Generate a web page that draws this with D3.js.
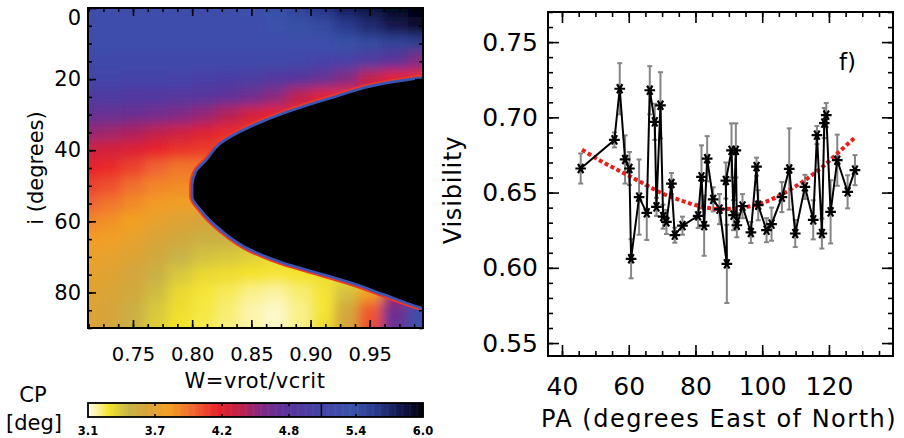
<!DOCTYPE html>
<html>
<head>
<meta charset="utf-8">
<script src="https://cdn.jsdelivr.net/npm/d3@7"></script>
<style>
  body { margin: 0; background: #fff; }
  svg { display: block; font-family: "DejaVu Sans", sans-serif; }
</style>
</head>
<body>
<svg id="chart" width="904" height="438"></svg>
<script>
// ---- left panel: CP (deg) over W = vrot/vcrit and inclination i ----
const cpW = [0.712, 0.73, 0.75, 0.77, 0.79, 0.81, 0.83, 0.85, 0.87, 0.89, 0.91, 0.93, 0.95, 0.97, 0.995];
const cpI = [0, 5, 10, 15, 20, 25, 30, 35, 40, 45, 50, 55, 60, 65, 70, 75, 80, 85, 90];
const cpValues = [
  [5.30, 5.30, 5.30, 5.30, 5.30, 5.30, 5.30, 5.33, 5.40, 5.50, 5.62, 5.75, 5.85, 5.95, 6.00],
  [5.30, 5.30, 5.30, 5.30, 5.30, 5.30, 5.30, 5.30, 5.34, 5.40, 5.45, 5.58, 5.68, 5.80, 5.90],
  [5.28, 5.28, 5.28, 5.28, 5.28, 5.28, 5.30, 5.30, 5.30, 5.30, 5.33, 5.40, 5.45, 5.50, 5.55],
  [5.20, 5.20, 5.22, 5.22, 5.22, 5.22, 5.22, 5.20, 5.18, 5.15, 5.10, 5.05, 4.95, 4.80, 4.60],
  [5.12, 5.12, 5.10, 5.10, 5.08, 5.05, 5.02, 4.98, 4.92, 4.85, 4.75, 4.60, 4.40, 4.25, 4.20],
  [4.95, 4.95, 4.93, 4.92, 4.88, 4.84, 4.78, 4.70, 4.58, 4.42, 4.25, 4.20, 4.20, 4.20, 4.20],
  [4.75, 4.74, 4.72, 4.68, 4.62, 4.55, 4.45, 4.32, 4.22, 4.20, 4.20, 4.20, 4.20, 4.20, 4.20],
  [4.55, 4.52, 4.48, 4.42, 4.35, 4.27, 4.20, 4.18, 4.18, 4.18, 4.18, 4.18, 4.18, 4.18, 4.18],
  [4.35, 4.32, 4.28, 4.22, 4.18, 4.15, 4.12, 4.12, 4.12, 4.12, 4.12, 4.12, 4.12, 4.12, 4.12],
  [4.22, 4.20, 4.12, 4.02, 3.95, 3.95, 3.95, 3.95, 3.95, 3.95, 3.95, 3.95, 3.95, 3.95, 3.95],
  [4.12, 4.08, 3.98, 3.90, 3.88, 3.88, 3.88, 3.88, 3.88, 3.88, 3.88, 3.88, 3.88, 3.88, 3.88],
  [4.02, 3.96, 3.88, 3.82, 3.78, 3.75, 3.75, 3.75, 3.75, 3.75, 3.75, 3.75, 3.75, 3.75, 3.75],
  [3.90, 3.86, 3.80, 3.72, 3.65, 3.60, 3.58, 3.58, 3.58, 3.58, 3.58, 3.58, 3.58, 3.58, 3.58],
  [3.82, 3.78, 3.72, 3.62, 3.55, 3.50, 3.48, 3.45, 3.45, 3.45, 3.45, 3.45, 3.45, 3.45, 3.45],
  [3.75, 3.72, 3.65, 3.55, 3.45, 3.40, 3.38, 3.35, 3.32, 3.32, 3.32, 3.32, 3.32, 3.32, 3.32],
  [3.70, 3.66, 3.58, 3.48, 3.38, 3.32, 3.30, 3.28, 3.27, 3.28, 3.30, 3.32, 3.35, 3.35, 3.35],
  [3.68, 3.62, 3.55, 3.42, 3.32, 3.27, 3.24, 3.20, 3.18, 3.22, 3.27, 3.40, 3.80, 4.45, 5.10],
  [3.66, 3.60, 3.50, 3.38, 3.30, 3.26, 3.22, 3.17, 3.14, 3.20, 3.27, 3.55, 4.05, 4.70, 5.30],
  [3.65, 3.58, 3.48, 3.36, 3.28, 3.25, 3.21, 3.17, 3.14, 3.20, 3.30, 3.60, 4.10, 4.75, 5.35]
];
// edge of the black region (no solution)
const critI = [19.3, 20, 21.2, 25, 29.6, 33.4, 38, 42.7, 46, 50, 53, 56.7, 62.4, 68, 71.7, 74.5, 77.3, 80.6, 84.3, 85];
const critW = [1.0, 0.985, 0.962, 0.92, 0.877, 0.849, 0.824, 0.812, 0.803, 0.80, 0.80, 0.807, 0.824, 0.849, 0.877, 0.906, 0.934, 0.962, 0.993, 1.0];
const cpWTicks = [0.75, 0.80, 0.85, 0.90, 0.95];
const cpITicks = [0, 20, 40, 60, 80];

// colour bar
const cbStops = [3.1, 3.18, 3.28, 3.45, 3.6, 3.8, 4.02, 4.22, 4.43, 4.6, 4.8, 5.1, 5.38, 5.6, 5.8, 6.0];
const cbColors = ["#fffdf0", "#fbf3a0", "#f4e42c", "#c6b447", "#d6a43a", "#f3a024", "#f06430", "#e8232a",
                  "#bd214e", "#832a84", "#5b329a", "#4443a8", "#3a53aa", "#29398c", "#12174c", "#02020a"];
const cbTicks = [3.1, 3.68, 4.26, 4.84, 5.42, 6.0];
const cbLabels = ["3.1", "3.7", "4.2", "4.8", "5.4", "6.0"];
const cbDivider = 5.12;

// ---- right panel: visibility vs position angle ----
const paDeg = [45.6, 55.7, 57.3, 58.9, 60.2, 60.7, 63.1, 65.4, 66.3, 67.8, 68.3, 69.5, 70.3, 71.3, 72.8, 73.8,
               76.1, 80.8, 81.8, 82.6, 83.5, 85.3, 87.2, 89.4, 89.1, 90.8, 91.4, 92.1, 92.4, 94.1, 96.6, 98.3,
               98.8, 101.3, 102.8, 105.9, 108.1, 109.9, 112.8, 115.3, 116.4, 117.9, 118.6, 119.2, 120.5, 122.5,
               125.6, 127.8];
const visVal = [0.666, 0.685, 0.719, 0.672, 0.666, 0.606, 0.647, 0.6365, 0.718, 0.697, 0.6405, 0.708, 0.634, 0.6305, 0.656, 0.6217,
                0.628, 0.6345, 0.6604, 0.628, 0.6725, 0.6455, 0.639, 0.6026, 0.658, 0.678, 0.635, 0.678, 0.6283, 0.641, 0.6235, 0.6672,
                0.6416, 0.625, 0.629, 0.647, 0.6657, 0.6228, 0.6538, 0.6319, 0.6882, 0.6228, 0.6962, 0.7015, 0.6372, 0.6715,
                0.6505, 0.6649];
const visErr = [0.010, 0.005, 0.017, 0.016, 0.011, 0.013, 0.025, 0.018, 0.016, 0.012, 0.006, 0.022, 0.008, 0.008, 0.007, 0.005,
                0.006, 0.008, 0.021, 0.020, 0.015, 0.008, 0.010, 0.026, 0.012, 0.018, 0.010, 0.018, 0.008, 0.008, 0.007, 0.006,
                0.010, 0.008, 0.011, 0.010, 0.027, 0.009, 0.008, 0.013, 0.006, 0.010, 0.010, 0.008, 0.021, 0.017,
                0.011, 0.010];
const fitPA  = [46, 52, 58, 64, 70, 76, 82, 88, 94, 100, 106, 112, 118, 124, 128];
const fitVis = [0.6785, 0.6705, 0.6635, 0.6565, 0.6495, 0.6445, 0.6405, 0.6390, 0.6400, 0.6430, 0.6490, 0.6570, 0.6670, 0.6790, 0.6870];
const paTicks = [40, 60, 80, 100, 120];
const visTicks = [0.55, 0.60, 0.65, 0.70, 0.75];

const svg = d3.select("#chart");

// ================= left panel =================
const xW = d3.scaleLinear().domain([0.712, 0.995]).range([88, 423]);
const yI = d3.scaleLinear().domain([0, 90]).range([8, 328]);
const cpColor = d3.scaleLinear().domain(cbStops).range(cbColors).clamp(true);

const defs = svg.append("defs");
defs.append("clipPath").attr("id", "mapClip")
    .append("rect")
    .attr("x", xW.range()[0]).attr("y", yI.range()[0])
    .attr("width", xW.range()[1] - xW.range()[0])
    .attr("height", yI.range()[1] - yI.range()[0]);
defs.append("filter").attr("id", "smooth")
    .attr("filterUnits", "userSpaceOnUse")
    .attr("x", 40).attr("y", -40).attr("width", 440).attr("height", 420)
    .append("feGaussianBlur").attr("stdDeviation", 6);

function cellEdge(arr, scale, k, side) {
    if (side < 0) return k === 0 ? scale(arr[0]) - 30 : (scale(arr[k - 1]) + scale(arr[k])) / 2;
    return k === arr.length - 1 ? scale(arr[k]) + 30 : (scale(arr[k]) + scale(arr[k + 1])) / 2;
}

const cells = cpI.flatMap((iv, r) => cpW.map((wv, c) => ({ r: r, c: c, v: cpValues[r][c] })));

const mapG = svg.append("g").attr("clip-path", "url(#mapClip)");
mapG.append("g")
    .attr("filter", "url(#smooth)")
    .selectAll("rect")
    .data(cells)
    .join("rect")
        .attr("x", d => cellEdge(cpW, xW, d.c, -1))
        .attr("y", d => cellEdge(cpI, yI, d.r, -1))
        .attr("width", d => cellEdge(cpW, xW, d.c, 1) - cellEdge(cpW, xW, d.c, -1) + 0.5)
        .attr("height", d => cellEdge(cpI, yI, d.r, 1) - cellEdge(cpI, yI, d.r, -1) + 0.5)
        .attr("fill", d => cpColor(d.v))
        .attr("shape-rendering", "crispEdges");

const crit = critI.map((iv, k) => ({ i: iv, w: critW[k] }));
const critLine = d3.line().x(d => xW(d.w)).y(d => yI(d.i)).curve(d3.curveMonotoneY);
const critArea = d3.area().y(d => yI(d.i)).x0(d => xW(d.w)).x1(xW.range()[1] + 20).curve(d3.curveMonotoneY);

mapG.append("path").datum(crit).attr("d", critLine)
    .attr("fill", "none").attr("stroke", "#e83a2c").attr("stroke-width", 6);
mapG.append("path").datum(crit).attr("d", critArea).attr("fill", "#000");
mapG.append("path").datum(crit).attr("d", critLine)
    .attr("fill", "none").attr("stroke", "#3c55b4").attr("stroke-width", 2.6);

// axes, ticks pointing inward
function inwardAxis(axisFn, scale, major, minor, majorLen, minorLen, pad, fmt) {
    return [
        axisFn(scale).tickValues(minor).tickSize(-minorLen).tickFormat(""),
        axisFn(scale).tickValues(major).tickSize(-majorLen).tickPadding(pad).tickFormat(fmt)
    ];
}

const wMinor = d3.range(0.7125, 0.995, 0.0125);
const iMinor = d3.range(0, 91, 5);

function drawAxis(g, axes, fontSize) {
    axes.forEach(a => {
        const sub = g.append("g").call(a);
        sub.select(".domain").remove();
        sub.selectAll("line").attr("stroke", "#000").attr("stroke-width", 1.6);
        sub.attr("font-family", null).attr("font-size", fontSize);
        sub.selectAll("text").attr("fill", "#000");
    });
}

const leftG = svg.append("g");
drawAxis(leftG.append("g").attr("transform", `translate(${xW.range()[0]},0)`),
    inwardAxis(d3.axisLeft, yI, cpITicks, iMinor, 8, 4, 7, d3.format("d")), 21);
drawAxis(leftG.append("g").attr("transform", `translate(${xW.range()[1]},0)`),
    inwardAxis(d3.axisRight, yI, cpITicks, iMinor, 8, 4, 7, () => ""), 21);
drawAxis(leftG.append("g").attr("transform", `translate(0,${yI.range()[1]})`),
    inwardAxis(d3.axisBottom, xW, cpWTicks, wMinor, 8, 4, 19, d3.format(".2f")), 19.5);
drawAxis(leftG.append("g").attr("transform", `translate(0,${yI.range()[0]})`),
    inwardAxis(d3.axisTop, xW, cpWTicks, wMinor, 8, 4, 7, () => ""), 19);
// the "0" label sits just below the top edge
leftG.selectAll("text").filter(d => d === 0).attr("dy", "0.78em");

leftG.append("rect")
    .attr("x", xW.range()[0]).attr("y", yI.range()[0])
    .attr("width", xW.range()[1] - xW.range()[0])
    .attr("height", yI.range()[1] - yI.range()[0])
    .attr("fill", "none").attr("stroke", "#000").attr("stroke-width", 2);

leftG.append("text")
    .attr("transform", "translate(43,168) rotate(-90)")
    .attr("text-anchor", "middle").attr("font-size", 21)
    .text("i (degrees)");
leftG.append("text")
    .attr("x", 255).attr("y", 388)
    .attr("text-anchor", "middle").attr("font-size", 21)
    .attr("letter-spacing", 0.6)
    .text("W=vrot/vcrit");

// colour bar
const cbX = d3.scaleLinear().domain([3.1, 6.0]).range([88, 423]);
const cbTop = 403, cbBottom = 417;
const cbG = svg.append("g");
const cbSteps = d3.range(3.1, 6.0, 0.01);
cbG.selectAll("rect.cb")
    .data(cbSteps)
    .join("rect")
        .attr("class", "cb")
        .attr("x", d => cbX(d))
        .attr("y", cbTop)
        .attr("width", cbX(3.11) - cbX(3.1) + 0.6)
        .attr("height", cbBottom - cbTop)
        .attr("fill", d => cpColor(d + 0.005));
cbG.selectAll("g.tk")
    .data(cbTicks.slice(1, -1))
    .join(enter => {
        const g = enter.append("g").attr("class", "tk");
        g.append("line").attr("x1", d => cbX(d)).attr("x2", d => cbX(d))
            .attr("y1", cbTop).attr("y2", cbTop + 3);
        g.append("line").attr("x1", d => cbX(d)).attr("x2", d => cbX(d))
            .attr("y1", cbBottom - 3).attr("y2", cbBottom);
        return g;
    })
    .selectAll("line").attr("stroke", "#000").attr("stroke-width", 1.5);
cbG.append("line")
    .attr("x1", cbX(cbDivider)).attr("x2", cbX(cbDivider))
    .attr("y1", cbTop).attr("y2", cbBottom)
    .attr("stroke", "#000").attr("stroke-width", 1.5);
cbG.append("rect")
    .attr("x", cbX.range()[0]).attr("y", cbTop)
    .attr("width", cbX.range()[1] - cbX.range()[0]).attr("height", cbBottom - cbTop)
    .attr("fill", "none").attr("stroke", "#000").attr("stroke-width", 1.8);
cbG.selectAll("text.cbl")
    .data(cbTicks)
    .join("text")
        .attr("class", "cbl")
        .attr("x", d => cbX(d))
        .attr("y", 435)
        .attr("text-anchor", "middle")
        .attr("font-size", 11.5)
        .attr("font-weight", "bold")
        .text((d, k) => cbLabels[k]);
cbG.append("text").attr("x", 33).attr("y", 402)
    .attr("text-anchor", "middle").attr("font-size", 21).text("CP");
cbG.append("text").attr("x", 34).attr("y", 430)
    .attr("text-anchor", "middle").attr("font-size", 21).text("[deg]");

// ================= right panel =================
const xPA = d3.scaleLinear().domain([35.8, 139.2]).range([548, 893]);
const yV = d3.scaleLinear().domain([0.5414, 0.770]).range([356, 12]);

const rightG = svg.append("g");
const paMinor = d3.range(40, 139, 5);
const visMinor = d3.range(0.55, 0.7701, 0.01);

drawAxis(rightG.append("g").attr("transform", `translate(${xPA.range()[0]},0)`),
    inwardAxis(d3.axisLeft, yV, visTicks, visMinor, 11, 5, 10, d3.format(".2f")), 25);
drawAxis(rightG.append("g").attr("transform", `translate(${xPA.range()[1]},0)`),
    inwardAxis(d3.axisRight, yV, visTicks, visMinor, 11, 5, 10, () => ""), 25);
drawAxis(rightG.append("g").attr("transform", `translate(0,${yV.range()[0]})`),
    inwardAxis(d3.axisBottom, xPA, paTicks, paMinor, 11, 5, 21, d3.format("d")), 25);
drawAxis(rightG.append("g").attr("transform", `translate(0,${yV.range()[1]})`),
    inwardAxis(d3.axisTop, xPA, paTicks, paMinor, 11, 5, 10, () => ""), 25);

const pts = paDeg.map((p, k) => ({ pa: p, v: visVal[k], e: visErr[k] }));

// grey error bars
const errG = rightG.append("g").attr("stroke", "#858585").attr("stroke-width", 2);
errG.selectAll("line.bar")
    .data(pts)
    .join("line")
        .attr("class", "bar")
        .attr("x1", d => xPA(d.pa)).attr("x2", d => xPA(d.pa))
        .attr("y1", d => yV(d.v - d.e)).attr("y2", d => yV(d.v + d.e));
errG.selectAll("line.capHi")
    .data(pts)
    .join("line")
        .attr("class", "capHi")
        .attr("x1", d => xPA(d.pa) - 2.5).attr("x2", d => xPA(d.pa) + 2.5)
        .attr("y1", d => yV(d.v + d.e)).attr("y2", d => yV(d.v + d.e));
errG.selectAll("line.capLo")
    .data(pts)
    .join("line")
        .attr("class", "capLo")
        .attr("x1", d => xPA(d.pa) - 2.5).attr("x2", d => xPA(d.pa) + 2.5)
        .attr("y1", d => yV(d.v - d.e)).attr("y2", d => yV(d.v - d.e));

// model curve
const fit = fitPA.map((p, k) => ({ pa: p, v: fitVis[k] }));
rightG.append("path")
    .datum(fit)
    .attr("d", d3.line().x(d => xPA(d.pa)).y(d => yV(d.v)).curve(d3.curveMonotoneX))
    .attr("fill", "none")
    .attr("stroke", "#e8201c")
    .attr("stroke-width", 4)
    .attr("stroke-dasharray", "4,2.6");

// data line and star markers
rightG.append("path")
    .datum(pts)
    .attr("d", d3.line().x(d => xPA(d.pa)).y(d => yV(d.v)))
    .attr("fill", "none")
    .attr("stroke", "#000")
    .attr("stroke-width", 2);

const star = d3.symbol().type(d3.symbolAsterisk).size(80);
rightG.selectAll("path.star")
    .data(pts)
    .join("path")
        .attr("class", "star")
        .attr("transform", d => `translate(${xPA(d.pa)},${yV(d.v)}) rotate(90)`)
        .attr("d", star)
        .attr("fill", "none")
        .attr("stroke", "#000")
        .attr("stroke-width", 2.2);

rightG.append("rect")
    .attr("x", xPA.range()[0]).attr("y", yV.range()[1])
    .attr("width", xPA.range()[1] - xPA.range()[0])
    .attr("height", yV.range()[0] - yV.range()[1])
    .attr("fill", "none").attr("stroke", "#000").attr("stroke-width", 2);

rightG.append("text")
    .attr("transform", "translate(461,190) rotate(-90)")
    .attr("text-anchor", "middle").attr("font-size", 24)
    .attr("letter-spacing", 0.8)
    .text("Visibility");
rightG.append("text")
    .attr("x", 719).attr("y", 427)
    .attr("text-anchor", "middle").attr("font-size", 24)
    .attr("letter-spacing", 1.5)
    .text("PA (degrees East of North)");
rightG.append("text")
    .attr("x", 839).attr("y", 70)
    .attr("font-size", 23)
    .text("f)");
</script>
</body>
</html>
